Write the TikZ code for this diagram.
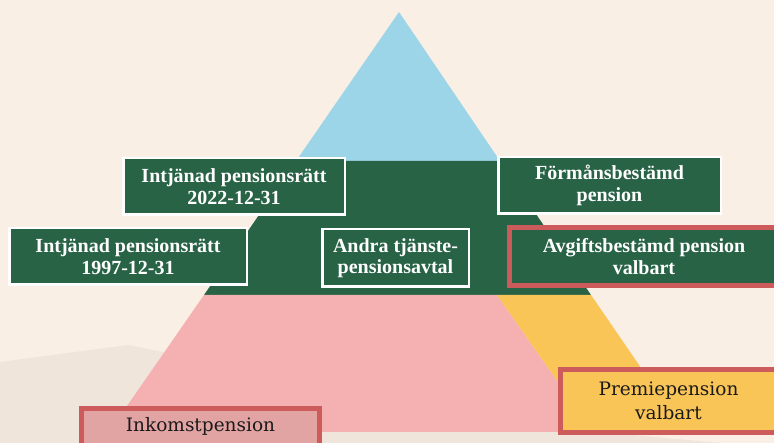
\documentclass[tikz,border=0pt]{standalone}
\usepackage{fontspec}
\setmainfont{Liberation Serif}
\newfontfamily\regfont{DejaVu Serif}
\definecolor{bgcream}{HTML}{F9EFE5}
\definecolor{bgbeige}{HTML}{EFE5DB}
\definecolor{pyblue}{HTML}{9DD5E8}
\definecolor{pygreen}{HTML}{286346}
\definecolor{pypink}{HTML}{F5B1B1}
\definecolor{pyyellow}{HTML}{FAC557}
\definecolor{redline}{HTML}{CD5B5B}
\definecolor{inkfill}{HTML}{E2A3A3}
\definecolor{darktext}{HTML}{1A1A1A}
\tikzset{
  whitetext/.style={text=white, align=center, inner sep=0pt,
    font=\fontsize{20}{21.5}\selectfont\bfseries},
  darktxt/.style={text=darktext, align=center, inner sep=0pt,
    font=\regfont\fontsize{18.5}{24}\selectfont},
  greenbox/.style={whitetext, draw=white, line width=2.5pt, fill=pygreen},
  offbox/.style={inner sep=0pt, outer sep=0pt},
  redframe/.style={draw=redline, line width=5pt, line join=miter}
}
\begin{document}
\begin{tikzpicture}[x=1pt,y=-1pt]
\useasboundingbox (0,0) rectangle (774,443);
\clip (0,0) rectangle (774,443);
\fill[bgcream] (0,0) rectangle (774,443);
\fill[bgbeige] (0,362) -- (128,345) -- (399,400) -- (600,432) -- (720,443) -- (0,443) -- cycle;
% pyramid
\coordinate (apex) at (399,12);
\coordinate (gtl) at (296,161);
\coordinate (gtr) at (500,161);
\coordinate (gbl) at (204,295);
\coordinate (gbr) at (591,295);
\coordinate (ybl) at (497,295);
\coordinate (pbl) at (109,432);
\coordinate (pbr) at (593,432);
\coordinate (ybr) at (685,432);
\fill[pyblue] (apex) -- (gtl) -- (gtr) -- cycle;
\fill[pygreen] (gtl) -- (gtr) -- (gbr) -- (gbl) -- cycle;
\fill[pypink] (gbl) -- (ybl) -- (pbr) -- (pbl) -- cycle;
\fill[pyyellow] (ybl) -- (gbr) -- (ybr) -- (pbr) -- cycle;
% boxes
\node[greenbox, minimum width=221.5pt, minimum height=56.5pt] (ip2022) at (234,186.5)
  {Intjänad pensionsrätt\\2022-12-31};
\node[greenbox, minimum width=237.5pt, minimum height=56.5pt] (ip1997) at (128,256.5)
  {Intjänad pensionsrätt\\1997-12-31};
\node[greenbox, minimum width=146.5pt, minimum height=57.5pt] (andra) at (395.5,258)
  {Andra tjänste-\\pensionsavtal};
\node[greenbox, minimum width=222.5pt, minimum height=56.5pt] (forman) at (609.5,185.5)
  {Förmånsbestämd\\pension};
% red-framed boxes, cut by the page edge
\node[offbox, anchor=west, fill=pygreen, minimum width=264.5pt, minimum height=58pt] (avgift) at (509.5,256.5) {};
\draw[redframe] (avgift.north east) -- (avgift.north west) -- (avgift.south west) -- (avgift.south east);
\node[whitetext] (avgifttxt) at (644,256.5) {Avgiftsbestämd pension\\valbart};
\node[offbox, anchor=north west, fill=inkfill, minimum width=238pt, minimum height=34.5pt] (inkomst) at (81.5,408.5) {};
\draw[redframe] (inkomst.south west) -- (inkomst.north west) -- (inkomst.north east) -- (inkomst.south east);
\node[darktxt] (inkomsttxt) at (200.5,426) {Inkomstpension};
\node[offbox, anchor=west, fill=pyyellow, minimum width=213.5pt, minimum height=63pt] (premie) at (560.5,401) {};
\draw[redframe] (premie.north east) -- (premie.north west) -- (premie.south west) -- (premie.south east);
\node[darktxt] (premietxt) at (668.5,401) {Premiepension\\valbart};
\end{tikzpicture}
\end{document}
